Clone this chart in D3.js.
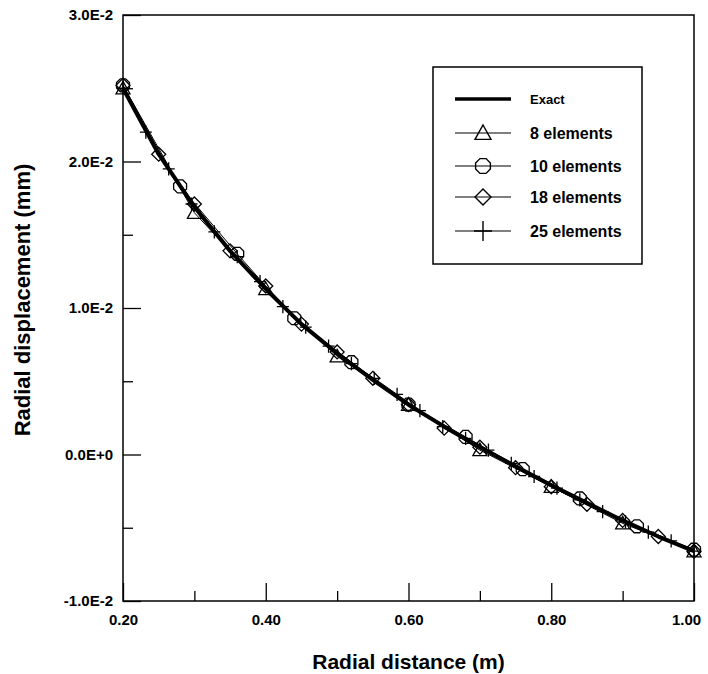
<!DOCTYPE html>
<html>
<head>
<meta charset="utf-8">
<script src="https://cdn.jsdelivr.net/npm/d3@7"></script>
<style>
  body { margin: 0; background: #fff; }
  text { font-family: "Liberation Sans", Arial, sans-serif; font-weight: bold; fill: #000; }
</style>
</head>
<body>
<svg id="chart" width="708" height="674"></svg>
<script>
// exact solution
const rExact = [0.20, 0.25, 0.30, 0.35, 0.40, 0.45, 0.50, 0.55, 0.60, 0.65, 0.70, 0.75, 0.80, 0.85, 0.90, 0.95, 1.00];
const uExact = [0.0250, 0.0205, 0.0169, 0.0139, 0.0113, 0.0089, 0.0069, 0.0051, 0.0034, 0.0019, 0.0005, -0.0008, -0.0021, -0.0033, -0.0045, -0.0056, -0.0066];

// FE results
const r8 = [0.2, 0.3, 0.4, 0.5, 0.6, 0.7, 0.8, 0.9, 1.0];
const u8 = [0.0250, 0.0165, 0.0113, 0.0067, 0.0034, 0.0003, -0.0022, -0.0047, -0.0066];

const r10 = [0.20, 0.28, 0.36, 0.44, 0.52, 0.60, 0.68, 0.76, 0.84, 0.92, 1.00];
const u10 = [0.0252, 0.0183, 0.0137, 0.0093, 0.0063, 0.0034, 0.0012, -0.0010, -0.0030, -0.0049, -0.0065];

const r18 = [0.20, 0.25, 0.30, 0.35, 0.40, 0.45, 0.50, 0.55, 0.60, 0.65, 0.70, 0.75, 0.80, 0.85, 0.90, 0.95, 1.00];
const u18 = [0.0252, 0.0205, 0.0171, 0.0139, 0.0115, 0.0089, 0.0070, 0.0052, 0.0034, 0.0018, 0.0005, -0.0009, -0.0022, -0.0034, -0.0045, -0.0056, -0.0066];

const r25 = [0.200, 0.232, 0.264, 0.296, 0.328, 0.360, 0.392, 0.424, 0.456, 0.488, 0.520, 0.552, 0.584,
             0.616, 0.648, 0.680, 0.712, 0.744, 0.776, 0.808, 0.840, 0.872, 0.904, 0.936, 0.968, 1.000];
const u25 = [0.0250, 0.0220, 0.0195, 0.0171, 0.0152, 0.0135, 0.0118, 0.0101, 0.0087, 0.0074, 0.0062, 0.0052, 0.0041,
             0.0030, 0.0019, 0.0011, 0.0003, -0.0006, -0.0015, -0.0023, -0.0031, -0.0039, -0.0046, -0.0053, -0.0059, -0.0066];

const xTicks = [0.2, 0.4, 0.6, 0.8, 1.0];
const xTickLabels = ["0.20", "0.40", "0.60", "0.80", "1.00"];
const xMinor = [0.3, 0.5, 0.7, 0.9];
const yTicks = [-0.01, 0, 0.01, 0.02, 0.03];
const yTickLabels = ["-1.0E-2", "0.0E+0", "1.0E-2", "2.0E-2", "3.0E-2"];
const yMinor = [-0.005, 0.005, 0.015, 0.025];

const legendNames = ["Exact", "8 elements", "10 elements", "18 elements", "25 elements"];

const svg = d3.select('#chart');

const x = d3.scaleLinear().domain([0.2, 1.0]).range([123, 694]);
const y = d3.scaleLinear().domain([-0.01, 0.03]).range([601, 15]);

// marker shapes
function markerPath(kind, s) {
  const h = s / 2;
  if (kind === 'tri') {
    return `M0,${-h}L${h},${h * 0.8}L${-h},${h * 0.8}Z`;
  }
  if (kind === 'oct') {
    const p = [];
    for (let i = 0; i < 8; i++) {
      const a = Math.PI / 8 + i * Math.PI / 4;
      p.push([h * Math.cos(a), h * Math.sin(a)]);
    }
    return 'M' + p.map(d => d.join(',')).join('L') + 'Z';
  }
  if (kind === 'dia') {
    return `M0,${-h}L${h},0L0,${h}L${-h},0Z`;
  }
  // plus
  return `M${-h},0L${h},0M0,${-h * 1.1}L0,${h * 1.1}`;
}

// frame
svg.append('rect')
  .attr('x', x(0.2)).attr('y', y(0.03))
  .attr('width', x(1.0) - x(0.2)).attr('height', y(-0.01) - y(0.03))
  .attr('fill', 'none').attr('stroke', '#000').attr('stroke-width', 1.5);

// axes
const xAxis = svg.append('g').attr('transform', `translate(0,${y(-0.01)})`)
  .call(d3.axisBottom(x).tickValues(xTicks).tickSize(-18).tickPadding(10)
    .tickFormat((d, i) => xTickLabels[i]));
svg.append('g').attr('transform', `translate(0,${y(-0.01)})`)
  .call(d3.axisBottom(x).tickValues(xMinor).tickSize(-10).tickFormat(''));

const yAxis = svg.append('g').attr('transform', `translate(${x(0.2)},0)`)
  .call(d3.axisLeft(y).tickValues(yTicks).tickSize(-18).tickPadding(10)
    .tickFormat((d, i) => yTickLabels[i]));
svg.append('g').attr('transform', `translate(${x(0.2)},0)`)
  .call(d3.axisLeft(y).tickValues(yMinor).tickSize(-10).tickFormat(''));

svg.selectAll('.domain').remove();
svg.selectAll('.tick line').attr('stroke', '#000').attr('stroke-width', 1.3);
svg.selectAll('.tick text').style('font-size', '15px').style('font-family', '"Liberation Sans", Arial, sans-serif').style('font-weight', 'bold');
xAxis.selectAll('.tick text').attr('dy', '0.9em');
xAxis.selectAll('.tick text').filter((d, i) => i === xTicks.length - 1).attr('dx', -8);

// titles
svg.append('text')
  .attr('x', (x(0.2) + x(1.0)) / 2).attr('y', 669)
  .attr('text-anchor', 'middle').style('font-size', '21px')
  .text('Radial distance (m)');
svg.append('text')
  .attr('transform', `translate(30,${y(0.01) - 8}) rotate(-90)`)
  .attr('text-anchor', 'middle').style('font-size', '22px')
  .text('Radial displacement (mm)');

const line = d3.line().x(d => x(d[0])).y(d => y(d[1]));

// FE series: thin line plus hollow markers
const series = [
  { r: r8, u: u8, kind: 'tri', size: 14 },
  { r: r10, u: u10, kind: 'oct', size: 14 },
  { r: r18, u: u18, kind: 'dia', size: 14 },
  { r: r25, u: u25, kind: 'plus', size: 12 }
];

series.forEach(s => {
  const pts = s.r.map((r, i) => [r, s.u[i]]);
  svg.append('path').attr('d', line(pts))
    .attr('fill', 'none').attr('stroke', '#000').attr('stroke-width', 1);
  svg.append('g').selectAll('path').data(pts).join('path')
    .attr('transform', d => `translate(${x(d[0])},${y(d[1])})`)
    .attr('d', markerPath(s.kind, s.size))
    .attr('fill', 'none').attr('stroke', '#000').attr('stroke-width', 1.3);
});

// exact curve on top
svg.append('path')
  .attr('d', line(rExact.map((r, i) => [r, uExact[i]])))
  .attr('fill', 'none').attr('stroke', '#000').attr('stroke-width', 4)
  .attr('stroke-linejoin', 'round');

// legend
const lg = svg.append('g');
lg.append('rect').attr('x', 433).attr('y', 67).attr('width', 209).attr('height', 197)
  .attr('fill', '#fff').attr('stroke', '#000').attr('stroke-width', 1.5);
const rowsY = [99, 133, 166, 197, 231];
const kinds = [null, 'tri', 'oct', 'dia', 'plus'];
legendNames.forEach((name, i) => {
  const yy = rowsY[i];
  lg.append('line').attr('x1', 455).attr('x2', 511).attr('y1', yy).attr('y2', yy)
    .attr('stroke', '#000').attr('stroke-width', i === 0 ? 3.5 : 1.2);
  if (kinds[i]) {
    lg.append('path').attr('transform', `translate(483,${yy})`)
      .attr('d', markerPath(kinds[i], kinds[i] === 'plus' ? 18 : 16))
      .attr('fill', 'none').attr('stroke', '#000').attr('stroke-width', 1.4);
  }
  lg.append('text').attr('x', 530).attr('y', yy + (i === 0 ? 5 : 6))
    .style('font-size', i === 0 ? '13px' : '16px')
    .text(name);
});
</script>
</body>
</html>
